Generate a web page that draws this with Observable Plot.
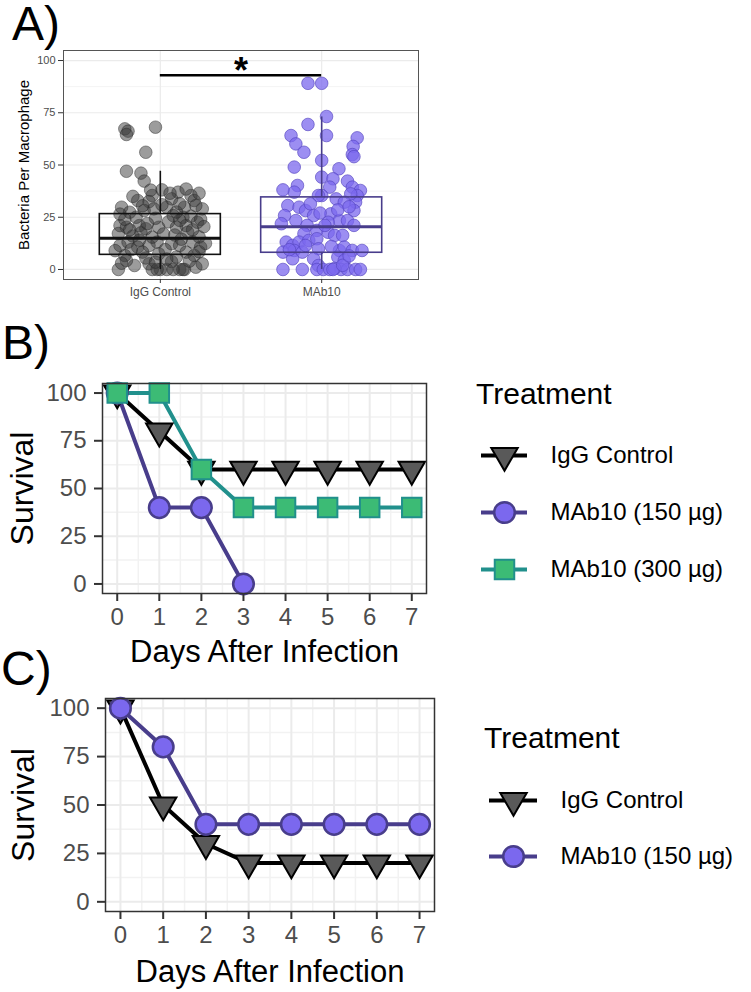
<!DOCTYPE html>
<html>
<head>
<meta charset="utf-8">
<script src="https://cdn.jsdelivr.net/npm/d3@7"></script>
<script src="https://cdn.jsdelivr.net/npm/@observablehq/plot@0.6"></script>
<style>
  body { margin: 0; background: #fff; font-family: "Liberation Sans", Arial, sans-serif; }
  #fig { position: relative; width: 751px; height: 992px; overflow: hidden; background: #fff; }
  #fig > svg, #fig > div { position: absolute; }
  .tag { font-size: 48px; line-height: 1; color: #000; white-space: nowrap; }
  .ltitle { font-size: 30px; line-height: 1; color: #000; white-space: nowrap; }
</style>
</head>
<body>
<div id="fig"></div>
<script>
// ---------- Panel A: bacteria per macrophage ----------
const groups = ["IgG Control", "MAb10"];
const groupPos = [1, 2];

// [jitter offset (category units), bacteria per macrophage]
const iggPoints = [
  [-0.22,67.3],[-0.20,66.2],[-0.21,64.6],[-0.03,68.1],[-0.09,56.1],[-0.21,47],[-0.12,46.1],[-0.10,42.3],[0.01,38.1],
  [-0.05,35.4],[-0.14,33],[0.11,37],[0.19,35.4],[0.21,33],[0.07,33.8],[0.04,29.8],[-0.07,32.5],[-0.24,29.8],
  [-0.19,27.4],[-0.10,28.2],[-0.04,29],[0.15,29.8],[0.26,29],[0.22,30.6],[0.08,25.8],[0.14,25],
  [-0.25,21],[-0.21,20.2],[-0.09,19.5],[-0.01,20.2],[0.16,21],[0.23,22.6],[0.10,20.2],[-0.13,21],
  [-0.25,11.5],[-0.20,13.1],[-0.14,10.7],[-0.07,11.5],[-0.02,13.1],[0.07,12.3],[0.12,11.5],[0.20,13.1],
  [0.25,10.7],[0.16,8.3],[-0.11,8.3],[-0.22,6.7],[-0.01,7.5],[0.21,6.7],
  [-0.26,0],[-0.16,1.9],[-0.07,2.7],[0,0],[0.04,0],[0.12,0],[0.15,0],[0.22,1.1],[0.26,2.7],[-0.21,4.3],[0.07,3.8],
  [-0.05,0],[-0.02,0],[0.08,0],[0.14,0],
  [-0.17,16],[-0.12,17.5],[-0.05,15.5],[0.02,17],[0.09,16.5],[0.17,17.8],[0.24,15.6],[-0.26,17.2],
  [-0.22,24],[-0.15,25],[-0.03,24.5],[0.05,22.8],[0.12,23.5],[0.19,25.5],[0.25,24],[-0.08,22],
  [-0.18,9.5],[-0.09,5.5],[0.03,9.5],[0.10,6],[0.18,4],[0.24,8.5],[-0.24,3],[-0.13,14],[0.13,14.5],
  [0.04,5],[-0.03,3.5],[0.20,19],[-0.19,19],[0.10,27.5],[-0.06,38],[0.16,38.5],[0.24,36.5],[-0.17,35],
  [0.06,36.5],[-0.25,26.5],[0.27,20.5],[0.01,31],[-0.11,30.5],[0.12,31.5],[0.28,12.5],[-0.28,9]
];
const mab10Points = [
  [-0.085,89.1],[0.0,89.1],[0.03,73.2],[-0.085,69.4],[-0.19,64.1],[-0.16,60.1],[-0.11,56.1],[0.03,64.1],
  [0.22,63],[0.195,58.9],[0.19,55],[0.20,54],[-0.17,49],[0,52.2],[0.107,48.2],[0,44.2],[0.07,43.4],
  [0.05,39.4],[-0.15,40.2],[-0.17,37],[-0.24,38.1],[0.16,42.3],[0,35.4],[0.19,39.4],[0.24,37.8],[0.22,35.4],
  [0.21,32.2],[-0.02,35.4],[0.18,36.2],[0.09,33.8],[0.14,32.2],[0.20,28.2],[-0.21,30.6],[-0.14,29.8],
  [-0.10,28.2],[-0.07,31.4],[-0.05,25.8],[0.056,26.6],[0.11,23.4],[0.16,23.4],[0.04,22.6],[-0.23,25.8],
  [-0.25,21.9],[-0.16,23.4],[-0.09,21.1],[-0.03,18.7],[0.04,17.8],[0.08,16.3],[0.13,16.3],[0.20,21.1],
  [0.02,21.1],[-0.11,17.1],[-0.22,13.1],[-0.18,11.5],[-0.14,13.1],[-0.08,13.9],[-0.03,14.7],[-0.24,8.3],
  [-0.17,9.1],[-0.12,8.3],[-0.02,9.9],[0.11,9.1],[0.14,10.7],[0.19,9.1],[0.25,9.1],[0.10,5.9],[0.14,4.3],
  [-0.05,5.1],[-0.18,5.1],[-0.02,1.9],[-0.24,0],[-0.12,0],[-0.03,0],[0.01,0],[0.05,0],[0.12,0],[0.16,0],
  [0.21,0],[0.24,0],[0.08,0.5],[0.07,0],[0.10,28.5],[0.17,30],[-0.01,27],[0.06,11],[-0.10,11.5],
  [0.13,2],[0.17,6.5],[-0.20,9.5]
];

// Box-plot summaries per group
const boxLower  = [0, 0];
const boxQ1     = [7, 8];
const boxMedian = [15, 20.5];
const boxQ3     = [26.5, 34.5];
const boxUpper  = [47, 73];

// Significance bracket between the two groups
const sigFrom = [1], sigTo = [2], sigY = [93], sigLabel = ["*"];

const aTicks = [0, 25, 50, 75, 100];
const aMinor = [12.5, 37.5, 62.5, 87.5];

// ---------- Panels B and C: survival ----------
const days = [0, 1, 2, 3, 4, 5, 6, 7];
const survTicks = [0, 25, 50, 75, 100];
const survMinor = [12.5, 37.5, 62.5, 87.5];
const dayMinor = [0.5, 1.5, 2.5, 3.5, 4.5, 5.5, 6.5];

const treatments = ["IgG Control", "MAb10 (150 µg)", "MAb10 (300 µg)"];

const survB_igg    = [100, 80, 60, 60, 60, 60, 60, 60];
const survB_mab150 = [100, 40, 40, 0];
const survB_mab300 = [100, 100, 60, 40, 40, 40, 40, 40];

const survC_igg    = [100, 50, 30, 20, 20, 20, 20, 20];
const survC_mab150 = [100, 80, 40, 40, 40, 40, 40, 40];

// ---------- styling ----------
const FONT = '"Liberation Sans", Arial, sans-serif';
const treatmentStyle = {
  "IgG Control":    {symbol: "triangle", rotate: 180, r: 9.8, fill: "#595959", stroke: "#000000", line: "#000000", sw: 2},
  "MAb10 (150 µg)": {symbol: "circle",   rotate: 0,   r: 10.3, fill: "#7B68EE", stroke: "#483D8B", line: "#483D8B", sw: 2.5},
  "MAb10 (300 µg)": {symbol: "square",   rotate: 0,   r: 11.0, fill: "#3CBB75", stroke: "#21908C", line: "#21908C", sw: 2}
};

const fig = document.getElementById("fig");

function addText(cls, text, left, top, extra = "") {
  const d = document.createElement("div");
  d.className = cls;
  d.textContent = text;
  d.style.cssText = `left:${left}px;top:${top}px;${extra}`;
  fig.appendChild(d);
}

// ---------- Panel A ----------
const boxes = groups.map((g, i) => ({
  group: g, pos: groupPos[i], lo: boxLower[i], q1: boxQ1[i], med: boxMedian[i], q3: boxQ3[i], hi: boxUpper[i]
}));
const sig = sigFrom.map((f, i) => ({from: f, to: sigTo[i], y: sigY[i], label: sigLabel[i]}));
const boxHalf = 0.375;

const plotA = Plot.plot({
  width: 430, height: 300,
  marginLeft: 63, marginRight: 12, marginTop: 50, marginBottom: 21,
  style: {fontFamily: FONT, background: "transparent", overflow: "visible"},
  x: {domain: [0.4, 2.6], axis: null},
  y: {domain: [-4.8, 104.8], axis: null},
  color: {domain: groups, range: ["#111111", "#483D8B"]},
  marks: [
    Plot.gridY(aMinor, {stroke: "#F4F4F4", strokeOpacity: 1, strokeWidth: 1}),
    Plot.gridY(aTicks, {stroke: "#EBEBEB", strokeOpacity: 1, strokeWidth: 1.2}),
    Plot.gridX(groupPos, {stroke: "#EBEBEB", strokeOpacity: 1, strokeWidth: 1.2}),
    Plot.dot(iggPoints, {x: d => groupPos[0] + d[0], y: d => d[1], r: 6.3,
      fill: "#3a3a3a", fillOpacity: 0.5, stroke: "#222", strokeOpacity: 0.55, strokeWidth: 0.8}),
    Plot.dot(mab10Points, {x: d => groupPos[1] + d[0], y: d => d[1], r: 6.3,
      fill: "#7B68EE", fillOpacity: 0.75, stroke: "#5443BF", strokeOpacity: 0.8, strokeWidth: 0.8}),
    Plot.ruleX(boxes, {x: "pos", y1: "q3", y2: "hi", stroke: "group", strokeWidth: 1.6}),
    Plot.ruleX(boxes, {x: "pos", y1: "lo", y2: "q1", stroke: "group", strokeWidth: 1.6}),
    Plot.rect(boxes, {x1: d => d.pos - boxHalf, x2: d => d.pos + boxHalf, y1: "q1", y2: "q3",
      fill: "none", stroke: "group", strokeWidth: 1.6}),
    Plot.ruleY(boxes, {y: "med", x1: d => d.pos - boxHalf, x2: d => d.pos + boxHalf, stroke: "group", strokeWidth: 3}),
    Plot.ruleY(sig, {y: "y", x1: "from", x2: "to", stroke: "#000", strokeWidth: 2.5}),
    Plot.text(sig, {x: d => (d.from + d.to) / 2, y: "y", text: "label", dy: -4, fontSize: 36, fontWeight: "bold", fill: "#000"}),
    Plot.frame({stroke: "#555", strokeWidth: 1}),
    Plot.axisY(aTicks, {tickSize: 5, tickPadding: 3, fontSize: 11, fill: "#4D4D4D", stroke: "#333", label: null}),
    Plot.axisX(groupPos, {tickSize: 4, tickPadding: 4, fontSize: 12, fill: "#4D4D4D", stroke: "#333",
      tickFormat: d => groups[d - 1], label: null}),
    Plot.text(["Bacteria Per Macrophage"], {frameAnchor: "left", rotate: -90, dx: -39,
      textAnchor: "middle", lineAnchor: "middle", fontSize: 15, fill: "#000"})
  ]
});
plotA.style.left = "0px"; plotA.style.top = "0px";
fig.appendChild(plotA);
addText("tag", "A)", 12, 0);

// ---------- survival panels ----------
function survivalPlot(series, dims, titleDx, titleDy) {
  const marks = [
    Plot.gridX(dayMinor, {stroke: "#F2F2F2", strokeOpacity: 1, strokeWidth: 1.5}),
    Plot.gridY(survMinor, {stroke: "#F2F2F2", strokeOpacity: 1, strokeWidth: 1.5}),
    Plot.gridX(days, {stroke: "#EBEBEB", strokeOpacity: 1, strokeWidth: 2}),
    Plot.gridY(survTicks, {stroke: "#EBEBEB", strokeOpacity: 1, strokeWidth: 2})
  ];
  const tables = series.map(s => s.values.map((v, i) => ({treatment: s.name, day: days[i], survival: v})));
  tables.forEach((rows, k) => {
    const st = treatmentStyle[series[k].name];
    marks.push(Plot.line(rows, {x: "day", y: "survival", stroke: st.line, strokeWidth: 4}));
  });
  tables.forEach((rows, k) => {
    const st = treatmentStyle[series[k].name];
    marks.push(Plot.dot(rows, {x: "day", y: "survival", symbol: st.symbol, rotate: st.rotate, r: st.r,
      fill: st.fill, stroke: st.stroke, strokeWidth: st.sw}));
  });
  marks.push(
    Plot.frame({stroke: "#333", strokeWidth: 1.5}),
    Plot.axisY(survTicks, {tickSize: 8, tickPadding: 8, fontSize: 24, fill: "#4D4D4D", stroke: "#333", strokeWidth: 2, label: null}),
    Plot.axisX(days, {tickSize: 8, tickPadding: 6, fontSize: 24, fill: "#4D4D4D", stroke: "#333", strokeWidth: 2, label: null}),
    Plot.text(["Survival"], {frameAnchor: "left", rotate: -90, dx: titleDx,
      textAnchor: "middle", lineAnchor: "middle", fontSize: 32, fill: "#000"}),
    Plot.text(["Days After Infection"], {frameAnchor: "bottom", dy: titleDy,
      textAnchor: "middle", lineAnchor: "middle", fontSize: 31, fill: "#000"})
  );
  return Plot.plot({
    ...dims,
    style: {fontFamily: FONT, background: "transparent", overflow: "visible"},
    x: {domain: [-0.35, 7.35], axis: null},
    y: {domain: [-5, 105], axis: null},
    marks
  });
}

function legendPlot(names, dims, yRange) {
  const marks = [];
  names.forEach(n => {
    const st = treatmentStyle[n];
    marks.push(Plot.ruleY([n], {y: d => d, stroke: st.line, strokeWidth: 4}));
  });
  names.forEach(n => {
    const st = treatmentStyle[n];
    marks.push(Plot.dot([n], {y: d => d, symbol: st.symbol, rotate: st.rotate, r: st.r,
      fill: st.fill, stroke: st.stroke, strokeWidth: st.sw}));
  });
  marks.push(Plot.text(names, {y: d => d, frameAnchor: "right", dx: 23, textAnchor: "start", fontSize: 24, fill: "#000"}));
  return Plot.plot({
    ...dims,
    style: {fontFamily: FONT, background: "transparent", overflow: "visible"},
    y: {type: "point", domain: names, range: yRange, padding: 0, axis: null},
    marks
  });
}

// Panel B
const plotB = survivalPlot([
  {name: treatments[0], values: survB_igg},
  {name: treatments[1], values: survB_mab150},
  {name: treatments[2], values: survB_mab300}
], {width: 440, height: 300, marginLeft: 102, marginRight: 14, marginTop: 13, marginBottom: 77}, -80, 59);
plotB.style.left = "0px"; plotB.style.top = "370px";
fig.appendChild(plotB);
addText("tag", "B)", 2, 319);

const legendB = legendPlot(treatments,
  {width: 281, height: 180, marginLeft: 11, marginRight: 224, marginTop: 0, marginBottom: 0}, [34, 149]);
legendB.style.left = "470px"; legendB.style.top = "420px";
fig.appendChild(legendB);
addText("ltitle", "Treatment", 476, 379);

// Panel C
const plotC = survivalPlot([
  {name: treatments[0], values: survC_igg},
  {name: treatments[1], values: survC_mab150}
], {width: 450, height: 308, marginLeft: 105, marginRight: 16, marginTop: 14, marginBottom: 81}, -82, 61);
plotC.style.left = "0px"; plotC.style.top = "684px";
fig.appendChild(plotC);
addText("tag", "C)", 1, 645);

const legendC = legendPlot(treatments.slice(0, 2),
  {width: 281, height: 120, marginLeft: 19, marginRight: 214, marginTop: 0, marginBottom: 0}, [30, 86]);
legendC.style.left = "470px"; legendC.style.top = "770px";
fig.appendChild(legendC);
addText("ltitle", "Treatment", 484, 723);
</script>
</body>
</html>
